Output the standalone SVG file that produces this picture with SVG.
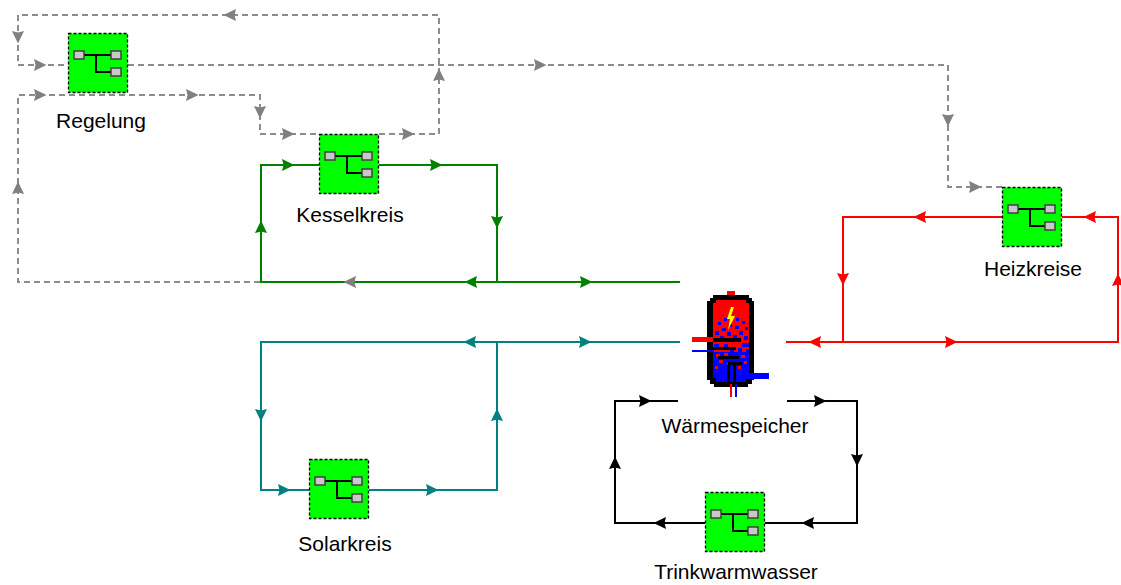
<svg xmlns="http://www.w3.org/2000/svg" xmlns:xlink="http://www.w3.org/1999/xlink" width="1121" height="585" viewBox="0 0 1121 585">
  <style>
    .lbl { font-family: "Liberation Sans", Arial, sans-serif; font-size: 21px; fill: #000; text-anchor: middle; }
    .ctl { fill: none; stroke: #8c8c8c; stroke-width: 2; stroke-dasharray: 6 4; }
    .grn { fill: none; stroke: #008000; stroke-width: 2; }
    .tea { fill: none; stroke: #008080; stroke-width: 2; }
    .red { fill: none; stroke: #ff0000; stroke-width: 2; }
    .blk { fill: none; stroke: #000; stroke-width: 2; }
    .a-ctl { fill: #808080; }
    .a-grn { fill: #008000; }
    .a-tea { fill: #008080; }
    .a-red { fill: #ff0000; }
    .a-blk { fill: #000; }
    .port { fill: #c8c8c8; stroke: #404040; stroke-width: 1.5; }
  </style>
  <defs>
    <!-- arrowhead pointing right, centred on the origin -->
    <path id="ah" d="M6.5,0 L-6,-6 L-4.5,0 L-6,6 Z"/>
    <!-- generic sub-system block -->
    <g id="block">
      <rect x="0.5" y="0.5" width="59" height="59" fill="#00ff00" stroke="#000" stroke-width="1.3" stroke-dasharray="3 2"/>
      <path d="M16,22 H43 M28,22 V39 H43" fill="none" stroke="#000" stroke-width="2"/>
      <rect class="port" x="6" y="18" width="10" height="8"/>
      <rect class="port" x="43" y="18" width="10" height="8"/>
      <rect class="port" x="43" y="35" width="10" height="8"/>
    </g>
  </defs>

  <!-- connectors -->
  <g id="connectors">
    <!-- control signals -->
    <path class="ctl" d="M379,134 H439 V15 H18 V65 H68"/>
    <path class="ctl" d="M128,65 H948 V187 H1002"/>
    <path class="ctl" d="M260,282 H18 V95 H260 V134 H319"/>
    <use href="#ah" class="a-ctl" transform="translate(230,15) rotate(180)"/>
    <use href="#ah" class="a-ctl" transform="translate(18,37) rotate(90)"/>
    <use href="#ah" class="a-ctl" transform="translate(40,65)"/>
    <use href="#ah" class="a-ctl" transform="translate(540,65)"/>
    <use href="#ah" class="a-ctl" transform="translate(439,75) rotate(-90)"/>
    <use href="#ah" class="a-ctl" transform="translate(408,134)"/>
    <use href="#ah" class="a-ctl" transform="translate(948,120) rotate(90)"/>
    <use href="#ah" class="a-ctl" transform="translate(975,187)"/>
    <use href="#ah" class="a-ctl" transform="translate(18,188) rotate(-90)"/>
    <use href="#ah" class="a-ctl" transform="translate(40,95)"/>
    <use href="#ah" class="a-ctl" transform="translate(192,95)"/>
    <use href="#ah" class="a-ctl" transform="translate(260,112) rotate(90)"/>
    <use href="#ah" class="a-ctl" transform="translate(288,134)"/>

    <!-- boiler circuit -->
    <path class="grn" d="M379,165 H497 V282 M319,165 H261 V282 H680"/>
    <use href="#ah" class="a-ctl" transform="translate(350,282) rotate(180)"/>
    <use href="#ah" class="a-grn" transform="translate(288,165)"/>
    <use href="#ah" class="a-grn" transform="translate(436,165)"/>
    <use href="#ah" class="a-grn" transform="translate(497,222) rotate(90)"/>
    <use href="#ah" class="a-grn" transform="translate(261,227) rotate(-90)"/>
    <use href="#ah" class="a-grn" transform="translate(471,282) rotate(180)"/>
    <use href="#ah" class="a-grn" transform="translate(586,282)"/>

    <!-- solar circuit -->
    <path class="tea" d="M680,342 H261 V490 H309 M369,490 H497 V342"/>
    <use href="#ah" class="a-tea" transform="translate(470,342) rotate(180)"/>
    <use href="#ah" class="a-tea" transform="translate(585,342)"/>
    <use href="#ah" class="a-tea" transform="translate(261,415) rotate(90)"/>
    <use href="#ah" class="a-tea" transform="translate(497,415) rotate(-90)"/>
    <use href="#ah" class="a-tea" transform="translate(284,490)"/>
    <use href="#ah" class="a-tea" transform="translate(432,490)"/>

    <!-- heating circuits -->
    <path class="red" d="M786,342 H1118 V217 H1062 M1002,217 H843 V342"/>
    <use href="#ah" class="a-red" transform="translate(815,342) rotate(180)"/>
    <use href="#ah" class="a-red" transform="translate(951,342)"/>
    <use href="#ah" class="a-red" transform="translate(1118,280) rotate(-90)"/>
    <use href="#ah" class="a-red" transform="translate(1090,217) rotate(180)"/>
    <use href="#ah" class="a-red" transform="translate(920,217) rotate(180)"/>
    <use href="#ah" class="a-red" transform="translate(843,279) rotate(90)"/>

    <!-- domestic hot water -->
    <path class="blk" d="M678,401 H615 V523 H705 M765,523 H857 V401 H787"/>
    <use href="#ah" class="a-blk" transform="translate(645,401)"/>
    <use href="#ah" class="a-blk" transform="translate(820,401)"/>
    <use href="#ah" class="a-blk" transform="translate(857,460) rotate(90)"/>
    <use href="#ah" class="a-blk" transform="translate(808,523) rotate(180)"/>
    <use href="#ah" class="a-blk" transform="translate(660,523) rotate(180)"/>
    <use href="#ah" class="a-blk" transform="translate(615,463) rotate(-90)"/>
  </g>

  <!-- nodes -->
  <g id="regelung">
    <use href="#block" transform="translate(68,33)"/>
    <text class="lbl" x="101" y="128">Regelung</text>
  </g>
  <g id="kesselkreis">
    <use href="#block" transform="translate(319,134)"/>
    <text class="lbl" x="350" y="222">Kesselkreis</text>
  </g>
  <g id="heizkreise">
    <use href="#block" transform="translate(1002,187)"/>
    <text class="lbl" x="1033" y="276">Heizkreise</text>
  </g>
  <g id="solarkreis">
    <use href="#block" transform="translate(309,459)"/>
    <text class="lbl" x="345" y="551">Solarkreis</text>
  </g>
  <g id="trinkwarmwasser">
    <use href="#block" transform="translate(705,492)"/>
    <text class="lbl" x="736" y="579">Trinkwarmwasser</text>
  </g>

  <!-- heat storage tank -->
  <g id="waermespeicher">
    <rect x="727" y="291" width="8" height="7" fill="#ff0000"/>
    <path d="M713,295 H749 V298 H752 V301 H754 V380 H752 V384 H748 V387 H714 V384 H710 V380 H707 V301 H710 V298 H713 Z" fill="#000"/>
    <path d="M716,300 H746 V303 H749 V352 H713 V303 H716 Z" fill="#ff0000"/>
    <path d="M713,352 H749 V378 H746 V382 H716 V378 H713 Z" fill="#0000ff"/>
    <!-- mixing zone -->
    <g fill="#0000ff">
      <rect x="724" y="318" width="3" height="3"/><rect x="736" y="318" width="3" height="3"/>
      <rect x="742" y="321" width="3" height="3"/><rect x="718" y="322" width="3" height="3"/>
      <rect x="729" y="324" width="3" height="3"/><rect x="735" y="326" width="4" height="3"/>
      <rect x="722" y="328" width="4" height="3"/><rect x="745" y="327" width="3" height="3"/>
      <rect x="715" y="331" width="4" height="4"/><rect x="727" y="332" width="4" height="4"/>
      <rect x="739" y="331" width="4" height="4"/><rect x="720" y="336" width="4" height="3"/>
      <rect x="733" y="335" width="4" height="3"/><rect x="744" y="336" width="4" height="4"/>
      <rect x="742" y="343" width="7" height="4"/><rect x="738" y="348" width="4" height="4"/>
      <rect x="714" y="344" width="5" height="3"/><rect x="724" y="344" width="4" height="3"/>
      <rect x="746" y="349" width="3" height="4"/><rect x="730" y="350" width="4" height="3"/>
    </g>
    <g fill="#ff0000">
      <rect x="716" y="354" width="4" height="3"/><rect x="724" y="353" width="4" height="4"/>
      <rect x="741" y="355" width="4" height="3"/><rect x="719" y="360" width="4" height="3"/>
      <rect x="744" y="361" width="3" height="3"/><rect x="727" y="363" width="3" height="3"/>
      <rect x="715" y="366" width="3" height="3"/><rect x="738" y="366" width="3" height="3"/>
    </g>
    <!-- burner flame -->
    <path d="M731,307 L727,319 L730,319 L728,330 L735,316 L731,316 L734,307 Z" fill="#ffff00"/>
    <!-- exchanger coil -->
    <g fill="#000">
      <rect x="712" y="338" width="29" height="4"/>
      <rect x="712" y="347" width="24" height="3"/>
      <rect x="718" y="356" width="21" height="3"/>
      <rect x="728" y="362" width="14" height="3"/>
      <rect x="733" y="362" width="3" height="22"/>
      <rect x="727" y="365" width="3" height="19"/>
    </g>
    <!-- connections -->
    <rect x="692" y="337" width="21" height="5" fill="#ff0000"/>
    <rect x="692" y="350" width="22" height="2" fill="#0000ff"/>
    <rect x="740" y="373" width="29" height="6" fill="#0000ff"/>
    <rect x="730" y="384" width="2" height="13" fill="#ff0000"/>
    <rect x="735" y="384" width="2" height="13" fill="#0000ff"/>
    <text class="lbl" x="735" y="433">Wärmespeicher</text>
  </g>
</svg>
